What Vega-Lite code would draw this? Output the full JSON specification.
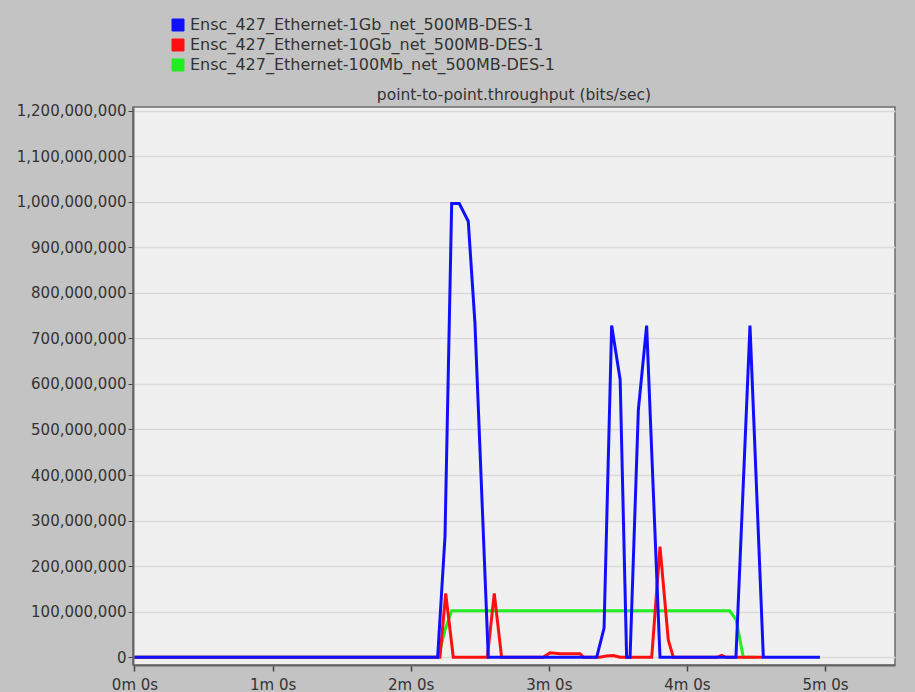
{
  "$schema": "https://vega.github.io/schema/vega-lite/v6.json",
  "width": 762,
  "height": 558,
  "autosize": {"type": "none"},
  "padding": {"left": 133, "top": 107, "right": 20, "bottom": 27},
  "background": "#c3c3c3",
  "config": {
    "view": {"fill": "#f0f0f0", "stroke": "#6e6e6e", "strokeWidth": 1.5},
    "font": "DejaVu Sans"
  },
  "title": {
    "text": "point-to-point.throughput (bits/sec)",
    "fontSize": 15.5,
    "fontWeight": "normal",
    "color": "#333333",
    "offset": 5,
    "dy": 91,
    "anchor": "middle",
    "frame": "group",
    "font": "DejaVu Sans"
  },
  "data": {
    "values": [
      {"series": "Ensc_427_Ethernet-100Mb_net_500MB-DES-1", "t": 0, "v": 0},
      {"series": "Ensc_427_Ethernet-100Mb_net_500MB-DES-1", "t": 132, "v": 0},
      {"series": "Ensc_427_Ethernet-100Mb_net_500MB-DES-1", "t": 134.9, "v": 60000000},
      {"series": "Ensc_427_Ethernet-100Mb_net_500MB-DES-1", "t": 137.8, "v": 102000000},
      {"series": "Ensc_427_Ethernet-100Mb_net_500MB-DES-1", "t": 258.6, "v": 102000000},
      {"series": "Ensc_427_Ethernet-100Mb_net_500MB-DES-1", "t": 261.4, "v": 82000000},
      {"series": "Ensc_427_Ethernet-100Mb_net_500MB-DES-1", "t": 264.5, "v": 0},
      {"series": "Ensc_427_Ethernet-100Mb_net_500MB-DES-1", "t": 270, "v": 0},

      {"series": "Ensc_427_Ethernet-10Gb_net_500MB-DES-1", "t": 0, "v": 0},
      {"series": "Ensc_427_Ethernet-10Gb_net_500MB-DES-1", "t": 132.7, "v": 0},
      {"series": "Ensc_427_Ethernet-10Gb_net_500MB-DES-1", "t": 135.2, "v": 140000000},
      {"series": "Ensc_427_Ethernet-10Gb_net_500MB-DES-1", "t": 138.5, "v": 0},
      {"series": "Ensc_427_Ethernet-10Gb_net_500MB-DES-1", "t": 153.3, "v": 0},
      {"series": "Ensc_427_Ethernet-10Gb_net_500MB-DES-1", "t": 156.3, "v": 140000000},
      {"series": "Ensc_427_Ethernet-10Gb_net_500MB-DES-1", "t": 159.5, "v": 0},
      {"series": "Ensc_427_Ethernet-10Gb_net_500MB-DES-1", "t": 177.6, "v": 0},
      {"series": "Ensc_427_Ethernet-10Gb_net_500MB-DES-1", "t": 180.5, "v": 10000000},
      {"series": "Ensc_427_Ethernet-10Gb_net_500MB-DES-1", "t": 185, "v": 8000000},
      {"series": "Ensc_427_Ethernet-10Gb_net_500MB-DES-1", "t": 193.6, "v": 8000000},
      {"series": "Ensc_427_Ethernet-10Gb_net_500MB-DES-1", "t": 195, "v": 0},
      {"series": "Ensc_427_Ethernet-10Gb_net_500MB-DES-1", "t": 202, "v": 0},
      {"series": "Ensc_427_Ethernet-10Gb_net_500MB-DES-1", "t": 205, "v": 3000000},
      {"series": "Ensc_427_Ethernet-10Gb_net_500MB-DES-1", "t": 208, "v": 4000000},
      {"series": "Ensc_427_Ethernet-10Gb_net_500MB-DES-1", "t": 211, "v": 0},
      {"series": "Ensc_427_Ethernet-10Gb_net_500MB-DES-1", "t": 224.7, "v": 0},
      {"series": "Ensc_427_Ethernet-10Gb_net_500MB-DES-1", "t": 228.3, "v": 243000000},
      {"series": "Ensc_427_Ethernet-10Gb_net_500MB-DES-1", "t": 231.9, "v": 38000000},
      {"series": "Ensc_427_Ethernet-10Gb_net_500MB-DES-1", "t": 234.1, "v": 0},
      {"series": "Ensc_427_Ethernet-10Gb_net_500MB-DES-1", "t": 253, "v": 0},
      {"series": "Ensc_427_Ethernet-10Gb_net_500MB-DES-1", "t": 255.1, "v": 4000000},
      {"series": "Ensc_427_Ethernet-10Gb_net_500MB-DES-1", "t": 257, "v": 0},
      {"series": "Ensc_427_Ethernet-10Gb_net_500MB-DES-1", "t": 273, "v": 0},

      {"series": "Ensc_427_Ethernet-1Gb_net_500MB-DES-1", "t": 0, "v": 0},
      {"series": "Ensc_427_Ethernet-1Gb_net_500MB-DES-1", "t": 131.7, "v": 0},
      {"series": "Ensc_427_Ethernet-1Gb_net_500MB-DES-1", "t": 134.9, "v": 265000000},
      {"series": "Ensc_427_Ethernet-1Gb_net_500MB-DES-1", "t": 137.8, "v": 996000000},
      {"series": "Ensc_427_Ethernet-1Gb_net_500MB-DES-1", "t": 141.1, "v": 996000000},
      {"series": "Ensc_427_Ethernet-1Gb_net_500MB-DES-1", "t": 145.0, "v": 957000000},
      {"series": "Ensc_427_Ethernet-1Gb_net_500MB-DES-1", "t": 147.9, "v": 734000000},
      {"series": "Ensc_427_Ethernet-1Gb_net_500MB-DES-1", "t": 153.7, "v": 0},
      {"series": "Ensc_427_Ethernet-1Gb_net_500MB-DES-1", "t": 200.8, "v": 0},
      {"series": "Ensc_427_Ethernet-1Gb_net_500MB-DES-1", "t": 204.0, "v": 64000000},
      {"series": "Ensc_427_Ethernet-1Gb_net_500MB-DES-1", "t": 207.3, "v": 728000000},
      {"series": "Ensc_427_Ethernet-1Gb_net_500MB-DES-1", "t": 211.0, "v": 609000000},
      {"series": "Ensc_427_Ethernet-1Gb_net_500MB-DES-1", "t": 213.8, "v": 0},
      {"series": "Ensc_427_Ethernet-1Gb_net_500MB-DES-1", "t": 215.3, "v": 0},
      {"series": "Ensc_427_Ethernet-1Gb_net_500MB-DES-1", "t": 218.9, "v": 543000000},
      {"series": "Ensc_427_Ethernet-1Gb_net_500MB-DES-1", "t": 222.5, "v": 728000000},
      {"series": "Ensc_427_Ethernet-1Gb_net_500MB-DES-1", "t": 228.3, "v": 0},
      {"series": "Ensc_427_Ethernet-1Gb_net_500MB-DES-1", "t": 261.3, "v": 0},
      {"series": "Ensc_427_Ethernet-1Gb_net_500MB-DES-1", "t": 267.4, "v": 728000000},
      {"series": "Ensc_427_Ethernet-1Gb_net_500MB-DES-1", "t": 273.2, "v": 0},
      {"series": "Ensc_427_Ethernet-1Gb_net_500MB-DES-1", "t": 297.8, "v": 0}
    ]
  },
  "encoding": {
    "x": {
      "field": "t",
      "type": "quantitative",
      "scale": {"domain": [-0.65, 330.4], "nice": false, "zero": false},
      "axis": {
        "title": null,
        "values": [0, 60, 120, 180, 240, 300],
        "labelExpr": "floor(datum.value / 60) + 'm ' + (datum.value % 60) + 's'",
        "grid": false,
        "labelFontSize": 15,
        "labelColor": "#333333",
        "labelFont": "DejaVu Sans",
        "tickColor": "#444444",
        "tickSize": 6,
        "tickWidth": 1.5,
        "labelPadding": 6,
        "domainColor": "#666666",
        "domainWidth": 2
      }
    },
    "y": {
      "field": "v",
      "type": "quantitative",
      "scale": {"domain": [-16900000, 1207700000], "nice": false, "zero": false},
      "axis": {
        "title": null,
        "values": [0, 100000000, 200000000, 300000000, 400000000, 500000000, 600000000, 700000000, 800000000, 900000000, 1000000000, 1100000000, 1200000000],
        "format": ",d",
        "grid": true,
        "gridColor": "#dadada",
        "gridWidth": 1.5,
        "labelFontSize": 15,
        "labelColor": "#333333",
        "labelFont": "DejaVu Sans",
        "tickColor": "#444444",
        "tickSize": 5,
        "labelPadding": 2,
        "domainColor": "#666666",
        "domainWidth": 2
      }
    },
    "color": {
      "field": "series",
      "type": "nominal",
      "scale": {
        "domain": ["Ensc_427_Ethernet-1Gb_net_500MB-DES-1", "Ensc_427_Ethernet-10Gb_net_500MB-DES-1", "Ensc_427_Ethernet-100Mb_net_500MB-DES-1"],
        "range": ["#1010ff", "#ff1010", "#20ee20"]
      },
      "legend": {
        "title": null,
        "orient": "none",
        "legendX": 37,
        "legendY": -90,
        "symbolType": "square",
        "symbolSize": 144,
        "symbolStrokeWidth": 1,
        "labelFontSize": 16,
        "labelFont": "DejaVu Sans",
        "labelColor": "#333333",
        "labelOffset": 4,
        "labelLimit": 0,
        "rowPadding": 4,
        "padding": 0,
        "encode": {
          "symbols": {
            "update": {
              "fill": {"scale": "color", "field": "value"},
              "stroke": {"value": "#333333"},
              "fillOpacity": {"value": 1},
              "opacity": {"value": 1}
            }
          }
        }
      }
    }
  },
  "layer": [
    {
      "transform": [{"filter": "datum.series === 'Ensc_427_Ethernet-100Mb_net_500MB-DES-1'"}],
      "mark": {"type": "line", "strokeWidth": 3}
    },
    {
      "transform": [{"filter": "datum.series === 'Ensc_427_Ethernet-10Gb_net_500MB-DES-1'"}],
      "mark": {"type": "line", "strokeWidth": 3}
    },
    {
      "transform": [{"filter": "datum.series === 'Ensc_427_Ethernet-1Gb_net_500MB-DES-1'"}],
      "mark": {"type": "line", "strokeWidth": 3}
    }
  ]
}
